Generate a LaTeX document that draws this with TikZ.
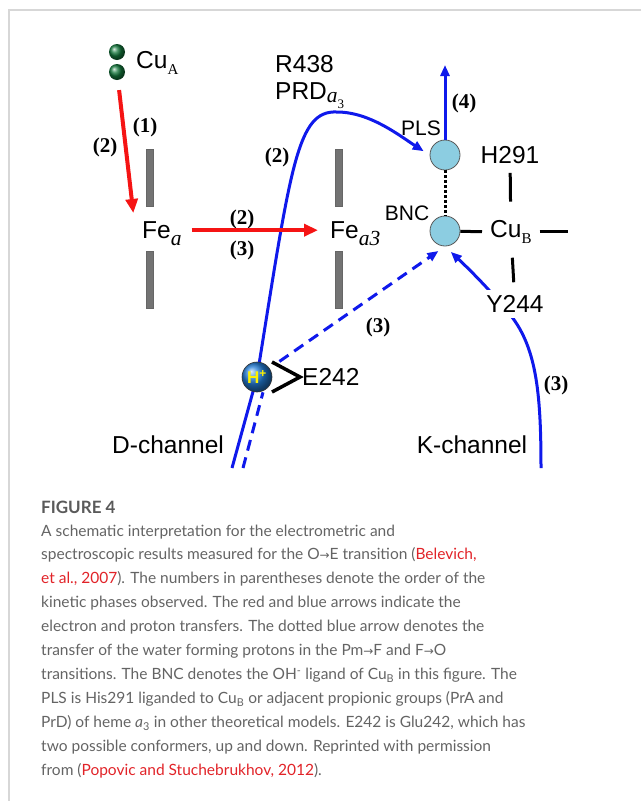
\documentclass[tikz,border=0pt]{standalone}
\usepackage{fontspec}
\setmainfont{Liberation Sans}
\newfontfamily\tnr{Liberation Serif}
\newfontfamily\capfont{Lato}
\newfontfamily\symfont{DejaVu Sans}
\usetikzlibrary{arrows.meta,backgrounds}
\definecolor{redarr}{RGB}{245,20,20}
\definecolor{bluearr}{RGB}{15,25,235}
\definecolor{siteblue}{RGB}{140,205,225}
\definecolor{bargray}{RGB}{115,115,115}
\definecolor{cugreen}{RGB}{20,120,60}
\definecolor{hballblue}{RGB}{35,125,215}
\definecolor{capgray}{RGB}{100,100,100}
\definecolor{linkred}{RGB}{225,35,40}
\definecolor{framegray}{RGB}{215,215,215}
\newcommand\phase[1]{{\tnr\bfseries\fontsize{21}{21}\selectfont(#1)}}
\newcommand\itsub[1]{\raisebox{-7pt}{\tnr\itshape\fontsize{21.5}{21.5}\selectfont #1}}
\newcommand\rmsub[1]{\raisebox{-6.5pt}{\tnr\fontsize{15}{15}\selectfont #1}}
\newcommand\rarr{{\symfont\fontsize{12}{12}\selectfont →}}
\newcommand\reflink[1]{\textcolor{linkred}{#1}}
\tikzset{
  lbl/.style={font=\fontsize{24.5}{28}\selectfont, inner sep=2pt},
  smalllbl/.style={font=\fontsize{21}{24}\selectfont, inner sep=2pt},
  phaselbl/.style={inner sep=1pt},
  cuball/.style={circle, minimum size=16pt, inner sep=0pt, shading=ball, ball color=cugreen},
  hball/.style={circle, minimum size=30pt, inner sep=0pt, shading=ball, ball color=hballblue,
                draw=black!80, line width=0.6pt, font=\bfseries\fontsize{17}{17}\selectfont, text=yellow},
  site/.style={circle, minimum size=30pt, inner sep=0pt, fill=siteblue, draw=gray!70!black, line width=0.8pt},
  hemebar/.style={rectangle, minimum width=7pt, minimum height=57pt, inner sep=0pt, fill=bargray, draw=black!60},
  redarrow/.style={-{Triangle[length=14pt,width=12pt]}, line width=4pt, redarr},
  bluearrow/.style={-{Triangle[length=11pt,width=9pt]}, line width=3pt, bluearr},
  blueline/.style={line width=3pt, bluearr},
  bluedash/.style={blueline, dash pattern=on 11pt off 7pt},
  bond/.style={line width=3.5pt, black},
  captext/.style={anchor=base west, inner sep=0pt, text=capgray, font=\capfont\fontsize{15.5}{18}\selectfont},
}

\begin{document}
\begin{tikzpicture}[x=1pt, y=-1pt]
\useasboundingbox (0,0) rectangle (641,801);
\draw[framegray, line width=1.2pt] (641,10) -- (9,10) -- (9,801);

% Cu_A and the two hemes
\node[cuball] (cua1) at (117,52) {};
\node[cuball] (cua2) at (117,72) {};
\node[lbl, anchor=west] (cua) at (134,63) {Cu\rmsub{A}};
\node[lbl, anchor=base west] (fea) at (140,238) {Fe\itsub{a}};
\node[lbl, anchor=base west] (fea3) at (328,238) {Fe\itsub{a3}};
\node[hemebar] (bara1) at (150,178) {};
\node[hemebar] (bara2) at (150,280) {};
\node[hemebar] (barb1) at (339,178) {};
\node[hemebar] (barb2) at (339,280) {};

% binuclear centre
\node[site] (pls) at (445,155) {};
\node[site] (bnc) at (445,231) {};
\node[smalllbl] (plslbl) at (421,128.5) {PLS};
\node[smalllbl] (bnclbl) at (407,213.5) {BNC};
\node[lbl, anchor=base west, inner xsep=8pt] (cub) at (482,237) {Cu\rmsub{B}};
\node[lbl] (h291) at (510,155) {H291};
\node[lbl, fill=white, inner sep=5pt] (y244) at (515,304) {Y244};
\coordinate (cubr) at ([xshift=28pt]cub.east);
\coordinate (top4) at (445,65);

% residues and channels
\node[lbl, anchor=base west] (r438) at (273,72) {R438};
\node[lbl, anchor=base west] (prd) at (273,99) {PRD\raisebox{-3pt}{\tnr\itshape\fontsize{21.5}{21.5}\selectfont a}\raisebox{-9pt}{\tnr\fontsize{13}{13}\selectfont 3}};
\node[hball] (hplus) at (257,377) {H\textsuperscript{+}};
\node[lbl, anchor=west] (e242) at (300,377) {E242};
\node[lbl] (dch) at (168,445) {D-channel};
\node[lbl] (kch) at (472,445) {K-channel};
\coordinate (dbot1) at (232,468);
\coordinate (dbot2) at (243,468);
\coordinate (kbot) at (541,468);

% phase numbers
\node[phaselbl] (p1) at (145,127) {\phase{1}};
\node[phaselbl] (p2a) at (105,147) {\phase{2}};
\node[phaselbl] (p2b) at (242,219) {\phase{2}};
\node[phaselbl] (p3a) at (242,250) {\phase{3}};
\node[phaselbl] (p2c) at (277,157) {\phase{2}};
\node[phaselbl] (p4) at (464,103.5) {\phase{4}};
\node[phaselbl] (p3b) at (378,327.5) {\phase{3}};
\node[phaselbl] (p3c) at (556,385) {\phase{3}};

% proton pathways
\begin{scope}[on background layer]
\draw[blueline] (dbot1) -- (hplus.center) .. controls (291,165) and (297,110) .. (337,112)
  .. controls (370,112) and (400,136) .. (pls.west)
  [bluearrow, shorten >=7pt];
\draw[bluedash] (dbot2) -- ([xshift=6pt]hplus.south);
\draw[bluearrow, bluedash, shorten <=12pt, shorten >=8pt] (hplus) -- (bnc.south);
\draw[bluearrow, shorten >=8pt] (kbot) .. controls (541,390) and (536,345) .. (508,312)
  .. controls (490,290) and (470,270) .. (bnc.south);
\end{scope}
\draw[bluearrow] (pls) -- (top4);

% electron transfer
\draw[redarrow, shorten <=10pt, shorten >=6pt] (cua2) -- ([xshift=-6pt]fea.north west);
\draw[redarrow, shorten <=8pt, shorten >=10pt] ([yshift=3pt]fea.east) -- ([yshift=3pt]fea3.west);

% ligands
\draw[black, line width=3pt, dash pattern=on 2.5pt off 2.5pt] (pls) -- (bnc);
\draw[bond, line width=3pt] (bnc) -- (cub.west);
\draw[bond, line width=3pt] (cub.east) -- (cubr);
\draw[bond, line width=3pt, shorten <=7pt, shorten >=16pt] (h291) -- (cub);
\draw[bond, line width=3pt, shorten <=12pt, shorten >=8pt] (cub) -- (y244);
\draw[bond] ([shift={(-28pt,15pt)}]e242.west) -- (e242.west) -- ([shift={(-28pt,-15pt)}]e242.west);

% caption
\node[anchor=base west, inner sep=0pt, text=capgray!90!black, font=\capfont\bfseries\fontsize{17}{20}\selectfont] (fig) at (41,513.5) {FIGURE 4};
\foreach \capline [count=\i from 0] in {
  {A schematic interpretation for the electrometric and},
  {spectroscopic results measured for the O\rarr E transition (\reflink{Belevich,}},
  {\reflink{et al., 2007}). The numbers in parentheses denote the order of the},
  {kinetic phases observed. The red and blue arrows indicate the},
  {electron and proton transfers. The dotted blue arrow denotes the},
  {transfer of the water forming protons in the Pm\rarr F and F\rarr O},
  {transitions. The BNC denotes the OH\textsuperscript{-} ligand of Cu\textsubscript{B} in this figure. The},
  {PLS is His291 liganded to Cu\textsubscript{B} or adjacent propionic groups (PrA and},
  {PrD) of heme \textit{a}\textsubscript{3} in other theoretical models. E242 is Glu242, which has},
  {two possible conformers, up and down. Reprinted with permission},
  {from (\reflink{Popovic and Stuchebrukhov, 2012}).}}
  \node[captext] (cap\i) at (41,{536+23.9*\i}) {\capline};
\end{tikzpicture}
\end{document}
